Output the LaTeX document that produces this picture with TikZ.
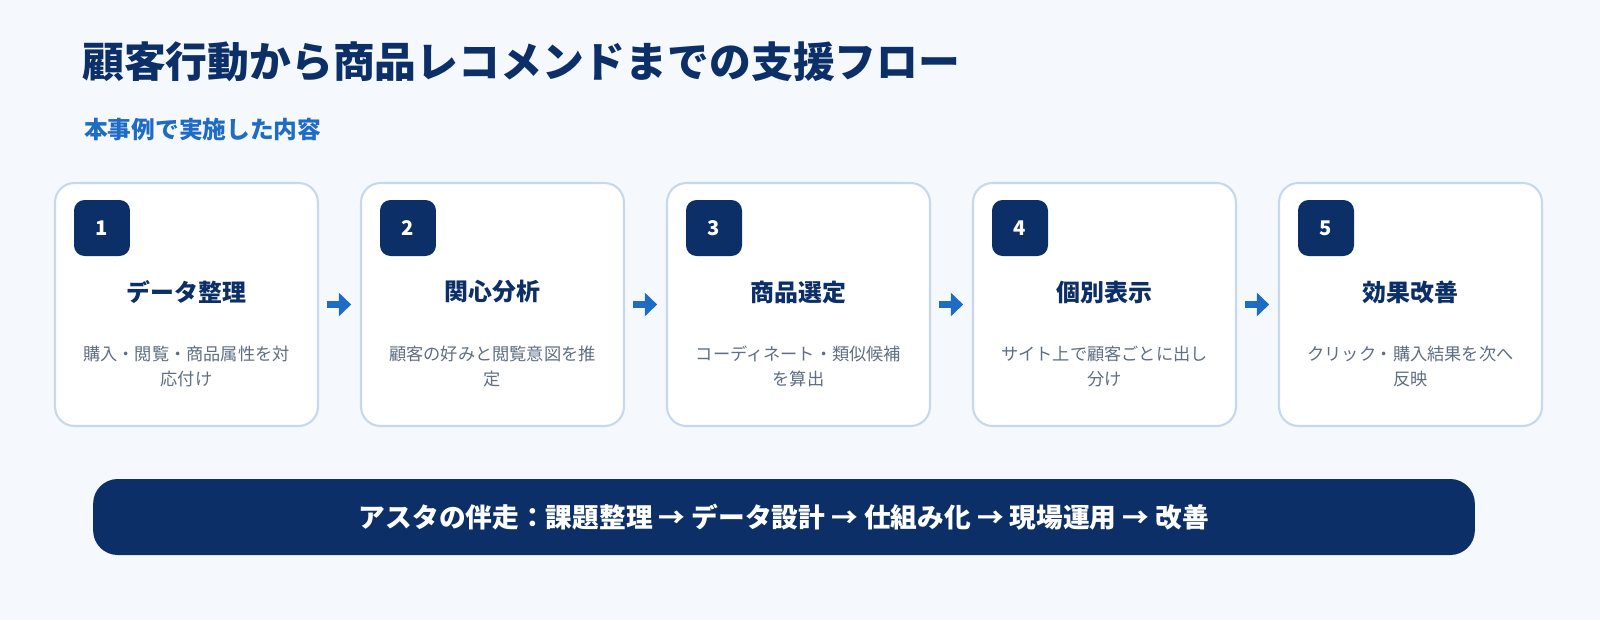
\documentclass[tikz,border=0pt]{standalone}
\usepackage{fontspec}
\setmainfont{Noto Sans CJK JP}
\usetikzlibrary{arrows.meta,positioning}
\definecolor{navy}{HTML}{0B2F66}
\definecolor{accent}{HTML}{1F6CC4}
\definecolor{edge}{HTML}{C7D8EA}
\definecolor{bgc}{HTML}{F5F9FE}
\definecolor{desc}{HTML}{5F6E82}
\tikzset{
  card/.style={draw=edge, line width=1.2pt, fill=white, rounded corners=11pt, minimum width=5.26cm, minimum height=4.86cm},
  badge/.style={fill=navy, rounded corners=6pt, minimum size=1.12cm, text=white, font=\fontsize{11.5}{13}\selectfont\bfseries},
  steptitle/.style={text=navy, font=\fontsize{13.6}{16}\selectfont\bfseries},
  note/.style={text=desc, align=center, font=\fontsize{9.8}{14.2}\selectfont},
  flow/.style={accent, line width=4pt, -{Triangle[length=7pt,width=13pt]}, shorten <=4.5pt, shorten >=5pt}
}
\begin{document}
\begin{tikzpicture}[x=0.02cm, y=-0.02cm]
	\fill[bgc] (0,0) rectangle (1600,620);

	\node[anchor=west, text=navy, font=\fontsize{23.8}{28}\selectfont\bfseries] (title) at (76,62) {顧客行動から商品レコメンドまでの支援フロー};
	\node[anchor=west, text=accent, font=\fontsize{13.5}{16}\selectfont\bfseries] (sub) at (78,130) {本事例で実施した内容};

	\foreach \i/\t/\d in {1/データ整理/購入・閲覧・商品属性を対\\応付け, 2/関心分析/顧客の好みと閲覧意図を推\\定, 3/商品選定/コーディネート・類似候補\\を算出, 4/個別表示/サイト上で顧客ごとに出し\\分け, 5/効果改善/クリック・購入結果を次へ\\反映} {
		\pgfmathsetmacro{\cx}{186.5+306*(\i-1)}
		\node[card] (c\i) at (\cx,304.5) {};
		\node[badge] (b\i) at (\cx-84.5,228) {\i};
		\node[steptitle] (s\i) at (\cx,292) {\t};
		\node[note] (n\i) at (\cx,366) {\d};
	}

	\foreach \a/\b in {1/2, 2/3, 3/4, 4/5}
		\draw[flow] (c\a.east) -- (c\b.west);

	\node[fill=navy, rounded corners=14pt, minimum width=27.64cm, minimum height=1.52cm, text=white, font=\fontsize{15.2}{18}\selectfont\bfseries] (bar) at (784,517) {アスタの伴走：課題整理 → データ設計 → 仕組み化 → 現場運用 → 改善};

	\pgfresetboundingbox
	\useasboundingbox (0,0) rectangle (1600,620);
\end{tikzpicture}
\end{document}
